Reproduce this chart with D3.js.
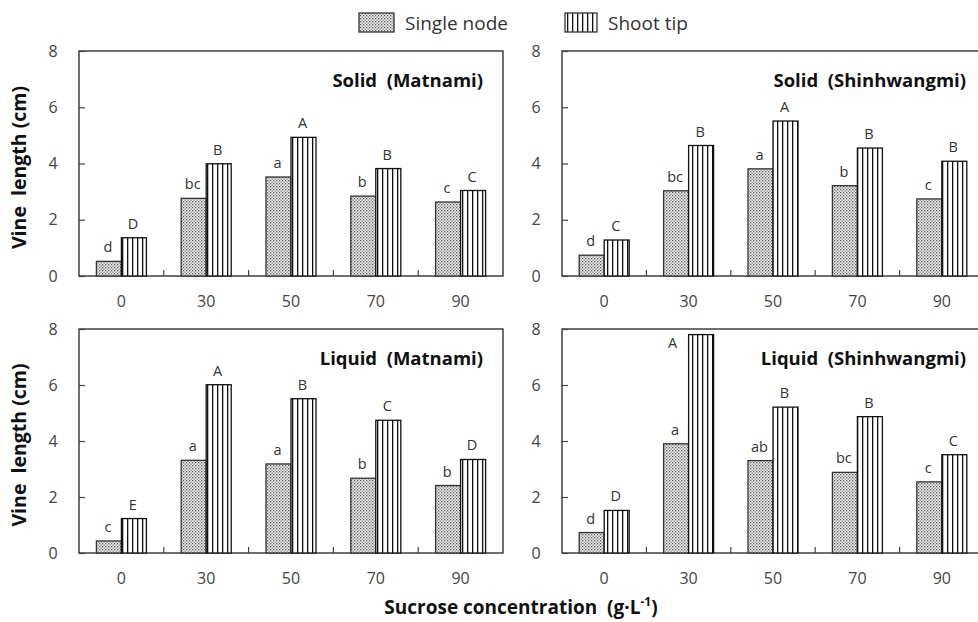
<!DOCTYPE html>
<html><head><meta charset="utf-8">
<script src="https://cdn.jsdelivr.net/npm/d3@7"></script>
<style>
body{margin:0;background:#fff;}
svg{display:block;font-family:"Open Sans","Noto Sans",sans-serif;}
</style></head>
<body><svg id="c" width="978" height="622"></svg>
<script>
const categories = ["0","30","50","70","90"];
const seriesNames = ["Single node","Shoot tip"];
const yTicks = [0,2,4,6,8];
const panelTitles = ["Solid  (Matnami)","Solid  (Shinhwangmi)","Liquid  (Matnami)","Liquid  (Shinhwangmi)"];
// values per panel: [single node], [shoot tip]
const solidMatnamiSingle = [0.52,2.76,3.52,2.84,2.63];
const solidMatnamiShoot  = [1.36,3.99,4.93,3.82,3.04];
const solidShinSingle    = [0.74,3.03,3.81,3.21,2.74];
const solidShinShoot     = [1.28,4.64,5.51,4.55,4.08];
const liquidMatnamiSingle= [0.43,3.31,3.18,2.67,2.41];
const liquidMatnamiShoot = [1.23,6.01,5.51,4.74,3.34];
const liquidShinSingle   = [0.73,3.90,3.30,2.88,2.54];
const liquidShinShoot    = [1.52,7.80,5.21,4.87,3.51];
// significance letters
const solidMatnamiSingleLab = ["d","bc","a","b","c"];
const solidMatnamiShootLab  = ["D","B","A","B","C"];
const solidShinSingleLab    = ["d","bc","a","b","c"];
const solidShinShootLab     = ["C","B","A","B","B"];
const liquidMatnamiSingleLab= ["c","a","a","b","b"];
const liquidMatnamiShootLab = ["E","A","B","C","D"];
const liquidShinSingleLab   = ["d","a","ab","bc","c"];
const liquidShinShootLab    = ["D","A","B","B","C"];

const panelsData = [
  {title:panelTitles[0], s:[solidMatnamiSingle,solidMatnamiShoot], l:[solidMatnamiSingleLab,solidMatnamiShootLab]},
  {title:panelTitles[1], s:[solidShinSingle,solidShinShoot], l:[solidShinSingleLab,solidShinShootLab]},
  {title:panelTitles[2], s:[liquidMatnamiSingle,liquidMatnamiShoot], l:[liquidMatnamiSingleLab,liquidMatnamiShootLab]},
  {title:panelTitles[3], s:[liquidShinSingle,liquidShinShoot], l:[liquidShinSingleLab,liquidShinShootLab]}
];

const svg = d3.select("#c");
const defs = svg.append("defs");
// stipple pattern
const pd = defs.append("pattern").attr("id","dots").attr("patternUnits","userSpaceOnUse")
  .attr("width",3).attr("height",3);
pd.append("rect").attr("width",3).attr("height",3).attr("fill","#f0f0f0");
pd.append("rect").attr("x",0).attr("y",0).attr("width",1.3).attr("height",1.3).attr("fill","#5a5a5a");
pd.append("rect").attr("x",1.5).attr("y",1.5).attr("width",1.3).attr("height",1.3).attr("fill","#7a7a7a");
// vertical stripes
const ps = defs.append("pattern").attr("id","stripes").attr("patternUnits","userSpaceOnUse")
  .attr("width",5).attr("height",5);
ps.append("rect").attr("width",5).attr("height",5).attr("fill","#fff");
ps.append("rect").attr("x",2).attr("y",0).attr("width",1.3).attr("height",5).attr("fill","#111");

const fills = ["url(#dots)","url(#stripes)"];
const strokes = ["#333","#111"];

const cols = [[79,503],[562,984]];
const rows = [[51,276],[329,553]];

panelsData.forEach((p,i)=>{
  const [x0,x1] = cols[i%2];
  const [y0,y1] = rows[Math.floor(i/2)];
  const x = d3.scaleBand().domain(categories).range([x0,x1]).padding(0);
  const y = d3.scaleLinear().domain([0,8]).range([y1,y0]);
  const bw = 25;
  const g = svg.append("g");

  // frame
  g.append("rect").attr("x",x0).attr("y",y0).attr("width",x1-x0).attr("height",y1-y0)
    .attr("fill","none").attr("stroke","#222").attr("stroke-width",1.3);

  // y axis (ticks inward)
  const ya = g.append("g").attr("transform",`translate(${x0},0)`)
    .call(d3.axisRight(y).tickValues(yTicks).tickSize(6).tickFormat(""));
  ya.select(".domain").remove();
  ya.selectAll("line").attr("stroke","#444").attr("stroke-width",1.2);
  g.selectAll(".ytl").data(yTicks).join("text").attr("class","ytl")
    .attr("x",x0-26).attr("y",d=>y(d)+5.5).attr("text-anchor","middle")
    .attr("font-size",16).attr("fill","#444").text(d=>d);

  // x axis separators (inward)
  const sep = categories.slice(1);
  g.selectAll(".xs").data(sep).join("line").attr("class","xs")
    .attr("x1",d=>x(d)).attr("x2",d=>x(d)).attr("y1",y1).attr("y2",y1-6)
    .attr("stroke","#444").attr("stroke-width",1.2);
  g.selectAll(".xtl").data(categories).join("text").attr("class","xtl")
    .attr("x",d=>x(d)+x.bandwidth()/2).attr("y",y1+31).attr("text-anchor","middle")
    .attr("font-size",16).attr("fill","#444").text(d=>d);

  // bars
  p.s.forEach((vals,si)=>{
    const bx = (c)=>x(c)+x.bandwidth()/2 - bw + si*bw;
    g.selectAll(".b"+si).data(vals).join("rect").attr("class","b"+si)
      .attr("x",(d,k)=>bx(categories[k])).attr("width",bw)
      .attr("y",d=>y(d)).attr("height",d=>y(0)-y(d))
      .attr("fill",fills[si]).attr("stroke",strokes[si]).attr("stroke-width",1.3);
    g.selectAll(".l"+si).data(vals).join("text").attr("class","l"+si)
      .attr("x",(d,k)=>{
        const top = y(d)-9;
        return top < y0+14 ? bx(categories[k]) - 16 : bx(categories[k]) + bw/2 - 1;
      })
      .attr("y",d=>{
        const top = y(d)-9;
        return top < y0+14 ? y(d)+13 : top;
      })
      .attr("text-anchor","middle").attr("font-size",14.5).attr("fill","#333")
      .text((d,k)=>p.l[si][k]);
  });

  // title
  g.append("text").attr("x",i%2===0?x1-20:966).attr("y",y0+36).attr("text-anchor","end")
    .attr("font-size",18.5).attr("font-weight","bold").attr("fill","#111")
    .style("white-space","pre").text(p.title);

  // y label (left panels only)
  if(i%2===0){
    const cy = (y0+y1)/2 + 4;
    g.append("text").attr("transform",`translate(26,${cy}) rotate(-90)`)
      .attr("text-anchor","middle").attr("font-size",19.5).attr("font-weight","bold").attr("fill","#111")
      .style("white-space","pre").text("Vine  length (cm)");
  }
});

// legend
const leg = svg.append("g");
const legItems = [{x:359,w:35,tx:405},{x:565,w:32,tx:608}];
legItems.forEach((it,k)=>{
  leg.append("rect").attr("x",it.x).attr("y",13).attr("width",it.w).attr("height",19)
    .attr("fill",fills[k]).attr("stroke","#333").attr("stroke-width",1.3);
  leg.append("text").attr("x",it.tx).attr("y",30).attr("font-size",19).attr("fill","#333").text(seriesNames[k]);
});

// x label
const xl = svg.append("text").attr("x",521).attr("y",614).attr("text-anchor","middle")
  .attr("font-size",19).attr("font-weight","bold").attr("fill","#111").style("white-space","pre");
xl.append("tspan").text("Sucrose concentration  (g·L");
xl.append("tspan").attr("font-size",12).attr("dy",-8).text("-1");
xl.append("tspan").attr("dy",8).text(")");
</script></body></html>
